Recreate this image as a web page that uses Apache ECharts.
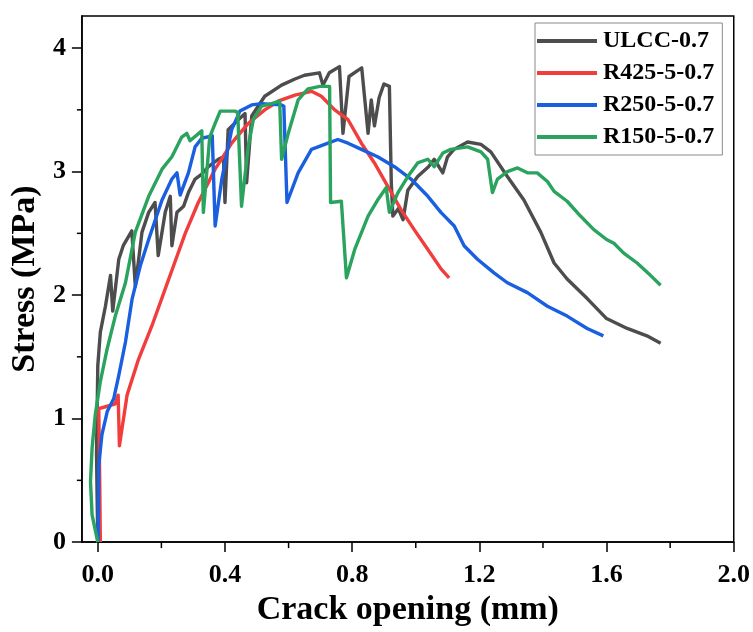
<!DOCTYPE html>
<html>
<head>
<meta charset="utf-8">
<script src="https://cdn.jsdelivr.net/npm/echarts@6/dist/echarts.min.js"></script>
<style>
  html, body { margin: 0; padding: 0; background: #ffffff; }
  #chart { width: 753px; height: 632px; }
</style>
</head>
<body>
<div id="chart"></div>
<script>
// Stress vs. crack opening curves, [crack opening (mm), stress (MPa)]
const seriesNames = ['ULCC-0.7', 'R425-5-0.7', 'R250-5-0.7', 'R150-5-0.7'];

const ulcc = [
  [0.000, 0.00], [-0.002, 0.35], [-0.004, 0.72], [0.000, 1.43], [0.008, 1.70], [0.024, 1.91],
  [0.040, 2.16], [0.047, 1.87], [0.066, 2.29], [0.080, 2.40], [0.107, 2.52], [0.118, 2.07],
  [0.139, 2.51], [0.160, 2.67], [0.180, 2.75], [0.190, 2.32], [0.212, 2.67], [0.228, 2.80],
  [0.233, 2.40], [0.249, 2.67], [0.270, 2.72], [0.285, 2.83], [0.306, 2.94], [0.327, 2.98],
  [0.348, 3.04], [0.379, 3.10], [0.395, 3.12], [0.400, 2.75], [0.410, 3.34], [0.442, 3.42],
  [0.463, 3.47], [0.468, 2.91], [0.484, 3.45], [0.525, 3.61], [0.578, 3.70], [0.620, 3.75],
  [0.650, 3.78], [0.697, 3.80], [0.708, 3.70], [0.728, 3.80], [0.760, 3.85], [0.771, 3.31],
  [0.790, 3.77], [0.818, 3.82], [0.830, 3.84], [0.850, 3.31], [0.860, 3.58], [0.870, 3.37],
  [0.885, 3.60], [0.900, 3.71], [0.917, 3.69], [0.923, 2.91], [0.928, 2.64], [0.945, 2.70],
  [0.960, 2.61], [0.975, 2.85], [1.006, 2.96], [1.040, 3.04], [1.058, 3.10], [1.085, 2.99],
  [1.100, 3.12], [1.120, 3.18], [1.163, 3.24], [1.205, 3.22], [1.236, 3.16], [1.288, 2.96],
  [1.340, 2.77], [1.393, 2.51], [1.435, 2.26], [1.476, 2.13], [1.540, 1.97], [1.600, 1.81],
  [1.665, 1.73], [1.727, 1.67], [1.770, 1.61]
];

const r425 = [
  [0.008, 0.00], [0.006, 0.50], [0.003, 1.08], [0.030, 1.10], [0.055, 1.12], [0.064, 1.19],
  [0.068, 0.78], [0.092, 1.19], [0.128, 1.48], [0.170, 1.75], [0.212, 2.05], [0.240, 2.25],
  [0.275, 2.50], [0.316, 2.75], [0.369, 3.02], [0.421, 3.23], [0.473, 3.39], [0.525, 3.50],
  [0.567, 3.57], [0.620, 3.62], [0.672, 3.65], [0.703, 3.61], [0.745, 3.50], [0.787, 3.42],
  [0.829, 3.23], [0.870, 3.07], [0.912, 2.88], [0.954, 2.69], [0.995, 2.53], [1.038, 2.37],
  [1.080, 2.21], [1.105, 2.14]
];

const r250 = [
  [0.001, 0.00], [0.003, 0.62], [0.013, 0.87], [0.030, 1.06], [0.050, 1.16], [0.066, 1.35],
  [0.087, 1.62], [0.108, 1.97], [0.134, 2.24], [0.160, 2.45], [0.202, 2.77], [0.233, 2.94],
  [0.249, 2.99], [0.259, 2.81], [0.285, 2.99], [0.306, 3.20], [0.327, 3.27], [0.360, 3.29],
  [0.369, 2.56], [0.390, 2.94], [0.421, 3.34], [0.447, 3.49], [0.484, 3.54], [0.515, 3.55],
  [0.578, 3.54], [0.585, 3.53], [0.595, 2.75], [0.630, 2.99], [0.672, 3.18], [0.724, 3.23],
  [0.755, 3.26], [0.787, 3.23], [0.829, 3.18], [0.880, 3.12], [0.933, 3.04], [0.985, 2.94],
  [1.038, 2.80], [1.079, 2.67], [1.121, 2.56], [1.152, 2.40], [1.194, 2.29], [1.246, 2.18],
  [1.288, 2.10], [1.351, 2.02], [1.414, 1.91], [1.476, 1.83], [1.539, 1.73], [1.590, 1.67]
];

const r150 = [
  [0.000, 0.00], [-0.018, 0.22], [-0.023, 0.49], [-0.018, 0.76], [-0.008, 1.03], [0.008, 1.30],
  [0.029, 1.56], [0.055, 1.83], [0.087, 2.10], [0.118, 2.51], [0.160, 2.80], [0.202, 3.02],
  [0.233, 3.12], [0.264, 3.28], [0.280, 3.31], [0.290, 3.25], [0.327, 3.33], [0.332, 2.67],
  [0.352, 3.28], [0.369, 3.39], [0.385, 3.49], [0.431, 3.49], [0.440, 3.48], [0.452, 2.72],
  [0.473, 3.20], [0.489, 3.42], [0.515, 3.53], [0.546, 3.55], [0.572, 3.57], [0.578, 3.10],
  [0.599, 3.31], [0.630, 3.58], [0.661, 3.67], [0.698, 3.69], [0.729, 3.69], [0.732, 2.75],
  [0.766, 2.76], [0.782, 2.14], [0.808, 2.37], [0.850, 2.64], [0.880, 2.77], [0.907, 2.87],
  [0.917, 2.67], [0.944, 2.83], [0.975, 2.96], [1.006, 3.07], [1.038, 3.10], [1.058, 3.04],
  [1.085, 3.15], [1.110, 3.18], [1.163, 3.20], [1.205, 3.16], [1.226, 3.10], [1.241, 2.83],
  [1.257, 2.94], [1.288, 3.00], [1.320, 3.03], [1.351, 2.99], [1.382, 2.99], [1.414, 2.92],
  [1.435, 2.84], [1.476, 2.76], [1.518, 2.64], [1.560, 2.53], [1.600, 2.45], [1.623, 2.42],
  [1.654, 2.34], [1.696, 2.26], [1.738, 2.16], [1.770, 2.08]
];

// tick positions and their labels
const xTickValues = [0, 0.4, 0.8, 1.2, 1.6, 2.0];
const xTickLabels = ['0.0', '0.4', '0.8', '1.2', '1.6', '2.0'];
const xMinorValues = [0.2, 0.6, 1.0, 1.4, 1.8];
const yTickValues = [0, 1, 2, 3, 4];
const yTickLabels = ['0', '1', '2', '3', '4'];
const yMinorValues = [0.5, 1.5, 2.5, 3.5];

const lineColors = ['#4d4d4d', '#f23d3d', '#1a5fe0', '#2aa35e'];
const serif = '"Liberation Serif", "Times New Roman", serif';

const chart = echarts.init(document.getElementById('chart'), null, { renderer: 'canvas' });

const axisLineStyle = { show: true, onZero: false, lineStyle: { color: '#000', width: 1.5 } };
const tickStyle = { color: '#000', width: 1.5 };
const labelStyle = { fontFamily: serif, fontWeight: 'bold', fontSize: 26, color: '#000' };
const nameStyle = { fontFamily: serif, fontWeight: 'bold', fontSize: 34, color: '#000' };

chart.setOption({
  animation: false,
  backgroundColor: '#ffffff',
  grid: {
    left: 80, right: 19, top: 16, bottom: 88,
    show: true, borderColor: '#000', borderWidth: 1.5, backgroundColor: 'transparent'
  },
  legend: {
    orient: 'vertical',
    left: 535, top: 23,
    width: 189,
    padding: [6, 8, 6, 2],
    itemGap: 8,
    itemWidth: 60, itemHeight: 4,
    icon: 'rect',
    borderColor: '#8a8a8a', borderWidth: 1,
    backgroundColor: '#fff',
    textStyle: { fontFamily: serif, fontWeight: 'bold', fontSize: 24, color: '#000', padding: [0, 0, 0, 1] },
    data: seriesNames
  },
  xAxis: {
    type: 'value',
    min: -0.05, max: 2.0,
    name: 'Crack opening (mm)',
    nameLocation: 'middle',
    nameGap: 48,
    nameTextStyle: nameStyle,
    axisLine: axisLineStyle,
    splitLine: { show: false },
    axisTick: { show: true, inside: false, length: 10, lineStyle: tickStyle, customValues: xTickValues },
    axisLabel: Object.assign({}, labelStyle, {
      margin: 20,
      customValues: xTickValues,
      formatter: v => xTickLabels[xTickValues.findIndex(t => Math.abs(t - v) < 1e-6)]
    })
  },
  yAxis: {
    type: 'value',
    min: 0, max: 4.26,
    name: 'Stress (MPa)',
    nameLocation: 'middle',
    nameGap: 34,
    nameRotate: 90,
    nameTextStyle: nameStyle,
    axisLine: axisLineStyle,
    splitLine: { show: false },
    axisTick: { show: true, inside: false, length: 10, lineStyle: tickStyle, customValues: yTickValues },
    axisLabel: Object.assign({}, labelStyle, {
      margin: 16,
      customValues: yTickValues,
      formatter: v => yTickLabels[yTickValues.findIndex(t => Math.abs(t - v) < 1e-6)]
    })
  },
  series: [ulcc, r425, r250, r150].map((d, i) => ({
    name: seriesNames[i],
    type: 'line',
    data: d,
    showSymbol: false,
    symbol: 'none',
    lineStyle: { width: 3.4, color: lineColors[i], join: 'round' },
    itemStyle: { color: lineColors[i] },
    z: 2 + i
  }))
});

// minor ticks at the half-intervals, placed through the axis scales
const minorMarks = [];
xMinorValues.forEach(v => {
  const p = chart.convertToPixel({ gridIndex: 0 }, [v, 0]);
  minorMarks.push({
    type: 'line', silent: true,
    shape: { x1: p[0], y1: p[1], x2: p[0], y2: p[1] + 6 },
    style: { stroke: '#000', lineWidth: 1.5 }
  });
});
yMinorValues.forEach(v => {
  const p = chart.convertToPixel({ gridIndex: 0 }, [-0.05, v]);
  minorMarks.push({
    type: 'line', silent: true,
    shape: { x1: p[0], y1: p[1], x2: p[0] - 5, y2: p[1] },
    style: { stroke: '#000', lineWidth: 1.5 }
  });
});
chart.setOption({ graphic: minorMarks });
</script>
</body>
</html>
